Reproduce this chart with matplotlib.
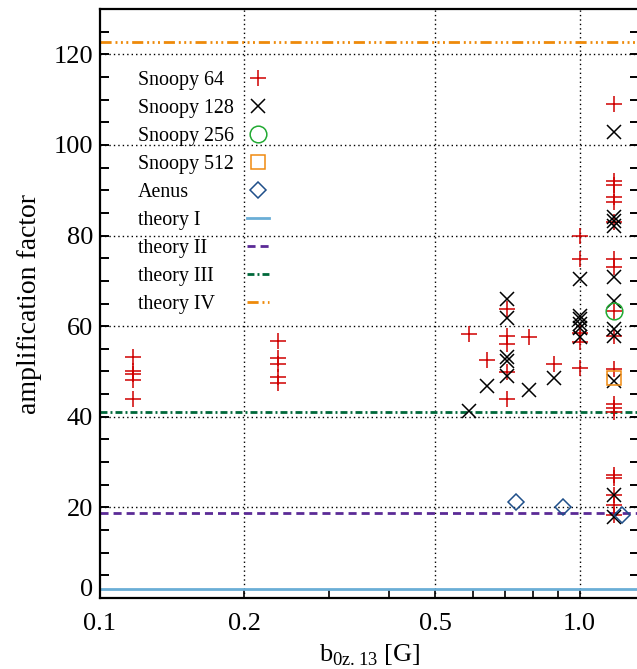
import numpy as np
import matplotlib
matplotlib.use("Agg")
import matplotlib.pyplot as plt
import matplotlib.transforms as mtransforms
from matplotlib.lines import Line2D

plt.rcParams["font.family"] = ["Liberation Serif", "DejaVu Serif"]
plt.rcParams["mathtext.fontset"] = "custom"
plt.rcParams["mathtext.rm"] = "Liberation Serif"

# Snoopy 64
s64_x = [0.117] * 5 + [0.235] * 5 + [0.587, 0.642] + [0.707] * 5 + [0.785, 0.885] + [1.0] * 5 + [1.177] * 19
s64_y = [53.3, 50.0, 49.4, 48.2, 44.0,
         56.8, 52.9, 51.7, 48.7, 47.5,
         58.3, 52.6,
         63.8, 57.9, 56.1, 49.8, 44.0,
         57.5, 51.7,
         79.8, 74.9, 58.4, 56.4, 50.7,
         109.1, 92.0, 91.2, 88.4, 87.3, 82.9, 74.8, 73.0, 63.4, 57.9,
         50.6, 42.9, 42.0, 41.0, 27.1, 26.4, 22.7, 20.5, 18.3]
# Snoopy 128
s128_x = [0.587, 0.642] + [0.707] * 5 + [0.785, 0.885] + [1.0] * 6 + [1.177] * 11
s128_y = [41.3, 46.9,
          66.0, 61.9, 53.1, 52.3, 48.9,
          45.9, 48.6,
          70.5, 62.3, 61.5, 60.5, 59.6, 57.7,
          102.9, 84.0, 83.2, 82.1, 70.8, 65.6, 59.4, 57.9, 48.0, 22.7, 17.9]
s256_x = [1.177]
s256_y = [63.4]
s512_x = [1.177]
s512_y = [48.5]
aenus_x = [0.736, 0.922, 1.226]
aenus_y = [21.2, 20.0, 18.4]

theory_labels = ["theory I", "theory II", "theory III", "theory IV"]
theory_values = [2.0, 18.8, 41.0, 122.8]

xticks = [0.1, 0.2, 0.5, 1.0]
xtick_labels = ["0.1", "0.2", "0.5", "1.0"]
xminor = [0.3, 0.4, 0.6, 0.7, 0.8, 0.9]

fig = plt.figure(figsize=(6.37, 6.69), dpi=100)
ax = fig.add_axes([100 / 637, 71 / 669, 539 / 637, 589 / 669])

ax.set_xscale("log")
ax.set_xlim(0.1, 1.33)
ax.set_ylim(0, 130)

# dotted grid
for v in [0.2, 0.5, 1.0]:
    ax.axvline(v, color="black", lw=1.0, ls=(0, (1, 2.2)), zorder=1)
for v in range(20, 130, 20):
    ax.axhline(v, color="black", lw=1.0, ls=(0, (1, 2.2)), zorder=1)

theory_colors = ["#6aaed6", "#5b2a96", "#00683a", "#ee8a0a"]
theory_styles = ["-", (0, (2.9, 1.8)), (0, (2.5, 1.1, 0.7, 1.1)),
                 (0, (4, 1.4, 0.7, 1.25, 0.7, 1.25, 0.7, 1.4))]
lines = []
for lab, val, c, st in zip(theory_labels, theory_values, theory_colors, theory_styles):
    lines.append(ax.axhline(val, color=c, lw=2.0, ls=st, label=lab, zorder=2))

p64, = ax.plot(s64_x, s64_y, ls="none", marker="+", ms=12, mew=1.1,
               color="#d00000", label="Snoopy 64", zorder=3)
p128, = ax.plot(s128_x, s128_y, ls="none", marker="x", ms=9.5, mew=1.1,
                color="black", label="Snoopy 128", zorder=4)
p256, = ax.plot(s256_x, s256_y, ls="none", marker="o", ms=12, mew=1.1,
                mfc="none", mec="#22aa33", label="Snoopy 256", zorder=5)
p512, = ax.plot(s512_x, s512_y, ls="none", marker="s", ms=10.5, mew=1.1,
                mfc="none", mec="#f08a10", label="Snoopy 512", zorder=5)
pae, = ax.plot(aenus_x, aenus_y, ls="none", marker="D", ms=8.5, mew=1.1,
               mfc="none", mec="#1f4f8a", label="Aenus", zorder=5)

handles = [p64, p128, p256, p512, pae] + lines
labels = [h.get_label() for h in handles]
leg_kw = dict(loc="upper left", frameon=False, numpoints=1, fontsize=14.4,
              labelspacing=0.45, borderpad=0, borderaxespad=0)

# text column (left aligned) and symbol column as two legends
blank = [Line2D([], [], ls="none") for _ in handles]
leg_text = ax.legend(blank, labels, bbox_to_anchor=(0.0705, 0.895),
                     handlelength=0, handletextpad=0, **leg_kw)
ax.add_artist(leg_text)
ax.legend(handles, [" "] * len(handles), bbox_to_anchor=(0.2727, 0.895),
          handlelength=1.1, handletextpad=0, **leg_kw)

ax.set_xticks(xticks)
ax.set_xticklabels(xtick_labels)
ax.set_xticks(xminor, minor=True)
ax.xaxis.set_minor_formatter(matplotlib.ticker.NullFormatter())
ax.set_yticks(range(0, 121, 20))
ax.set_yticks(range(0, 131, 5), minor=True)

ax.tick_params(axis="x", which="both", direction="in", length=6, width=1.2,
               labelsize=19, pad=11, top=False)
ax.tick_params(axis="y", which="both", direction="in", length=6.5, width=1.4,
               labelsize=19, pad=5, left=True, right=True)
for s in ax.spines.values():
    s.set_linewidth(1.6)

ax.set_xlabel(r"b$_{\rm 0z.13}$ [G]", fontsize=19, labelpad=5)
ax.set_ylabel("amplification factor", fontsize=20, labelpad=8)

# the "0" label sits a little above the axis
lab0 = ax.yaxis.get_major_ticks()[0].label1
lab0.set_transform(lab0.get_transform() +
                   mtransforms.ScaledTranslation(0, 10 / 100, fig.dpi_scale_trans))

fig.savefig("out.png", dpi=100)
